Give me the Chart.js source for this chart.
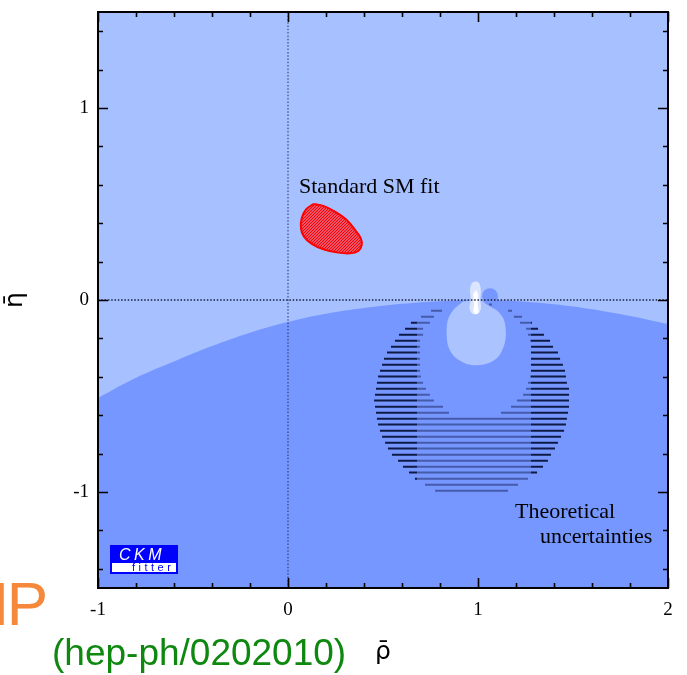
<!DOCTYPE html>
<html>
<head>
<meta charset="utf-8">
<script src="https://cdn.jsdelivr.net/npm/chart.js@4.4.0/dist/chart.umd.min.js"></script>
<style>
  html, body { margin: 0; padding: 0; background: #fff; }
  #wrap { width: 687px; height: 675px; position: relative; }
</style>
</head>
<body>
<div id="wrap"><canvas id="ckmChart" width="687" height="675"></canvas></div>
<script>
// =========================
// Axis ticks (rho-bar, eta-bar)
// =========================
const rhoTicks = [-1, 0, 1, 2];
const etaTicks = [-1, 0, 1];
const rhoMinor = [-0.8, -0.6, -0.4, -0.2, 0.2, 0.4, 0.6, 0.8, 1.2, 1.4, 1.6, 1.8];
const etaMinor = [-1.4, -1.2, -0.8, -0.6, -0.4, -0.2, 0.2, 0.4, 0.6, 0.8, 1.2, 1.4];

// =========================
// Lower excluded region boundary
// =========================
const boundaryRho = [-1, -0.8, -0.6, -0.4, -0.2, 0, 0.2, 0.4, 0.6, 0.8, 1, 1.2, 1.4, 1.6, 1.8, 2];
const boundaryEta = [-0.51, -0.405, -0.32, -0.24, -0.17, -0.115, -0.072, -0.042, -0.02, -0.006, 0, -0.006, -0.022, -0.048, -0.083, -0.125];

// =========================
// Standard SM fit contour
// =========================
const smRho = [0.133, 0.186, 0.247, 0.309, 0.353, 0.383, 0.388, 0.37, 0.326, 0.256, 0.186, 0.125, 0.084, 0.068, 0.072, 0.095, 0.133];
const smEta = [0.5, 0.49, 0.46, 0.417, 0.365, 0.321, 0.286, 0.255, 0.243, 0.248, 0.264, 0.292, 0.33, 0.373, 0.426, 0.472, 0.5];

// =========================
// Light blob near rho=1 and the white streak on top of it
// =========================
const blobRho = [0.919, 0.87, 0.841, 0.835, 0.844, 0.879, 0.941, 0.993, 1.054, 1.107, 1.138, 1.147, 1.137, 1.107, 1.067, 1.037, 1.019, 0.97, 0.919];
const blobEta = [-0.009, -0.052, -0.104, -0.174, -0.243, -0.298, -0.333, -0.34, -0.33, -0.295, -0.234, -0.173, -0.104, -0.061, -0.035, -0.017, 0.0, 0.0, -0.009];
const pillRho = [0.985, 1.005, 1.015, 1.012, 1.016, 1.005, 0.985, 0.965, 0.955, 0.962, 0.958, 0.968, 0.985];
const pillEta = [0.098, 0.09, 0.055, 0.0, -0.04, -0.068, -0.075, -0.066, -0.04, 0.0, 0.055, 0.088, 0.098];
const coreRho = [0.99, 1.0, 0.998, 1.003, 0.99, 0.976, 0.98, 0.975, 0.99];
const coreEta = [0.052, 0.03, -0.02, -0.062, -0.073, -0.062, -0.02, 0.03, 0.052];
const knobRho = [1.063];
const knobEta = [0.02];

// =========================
// Theoretical uncertainties: hatch lines (eta level + segment ends)
// =========================
const hatchEta = [-0.056, -0.087, -0.118, -0.15, -0.181, -0.212, -0.243, -0.274, -0.306, -0.337,
  -0.368, -0.399, -0.431, -0.462, -0.493, -0.524, -0.556, -0.587, -0.618, -0.649,
  -0.681, -0.712, -0.743, -0.774, -0.806, -0.837, -0.868, -0.899, -0.931, -0.962, -0.993, -0.023];
const hatchRho = [
  [0.753, 0.811, 1.158, 1.179],
  [0.7, 0.768, 1.189, 1.232],
  [0.647, 0.747, 1.221, 1.284],
  [0.616, 0.711, 1.253, 1.316],
  [0.584, 0.711, 1.263, 1.347],
  [0.563, 0.695, 1.274, 1.379],
  [0.542, 0.695, 1.279, 1.395],
  [0.521, 0.695, 1.279, 1.421],
  [0.505, 0.695, 1.279, 1.432],
  [0.495, 0.695, 1.279, 1.447],
  [0.484, 0.695, 1.279, 1.458],
  [0.474, 0.7, 1.274, 1.463],
  [0.468, 0.711, 1.263, 1.468],
  [0.463, 0.726, 1.253, 1.479],
  [0.458, 0.747, 1.237, 1.479],
  [0.453, 0.768, 1.205, 1.479],
  [0.458, 0.816, 1.174, 1.479],
  [0.463, 0.847, 1.121, 1.474],
  [0.468, 1.468],
  [0.474, 1.463],
  [0.484, 1.453],
  [0.495, 1.437],
  [0.511, 1.421],
  [0.526, 1.405],
  [0.547, 1.384],
  [0.579, 1.368],
  [0.605, 1.342],
  [0.637, 1.311],
  [0.668, 1.263],
  [0.721, 1.211],
  [0.774, 1.158],
  [1.058, 1.074],
];

// band of rho where the hatching is drawn lighter
const bandLo = 0.68;
const bandHi = 1.277;

const lightBlue = "#a7c0ff";
const darkBlue = "#7697ff";
const hatchDark = "#0e1a44";
const hatchSoft = "rgba(38, 55, 120, 0.62)";

const toPoints = (xs, ys) => xs.map((x, i) => ({ x, y: ys[i] }));

function hatchPoints() {
  const pts = [];
  hatchEta.forEach((eta, i) => {
    const ends = hatchRho[i];
    for (let j = 0; j < ends.length; j += 2) {
      pts.push({ x: ends[j], y: eta }, { x: ends[j + 1], y: eta }, { x: ends[j + 1], y: null });
    }
  });
  return pts;
}

const chartEl = document.getElementById("ckmChart");

// red diagonal hatching for the SM fit area
function redPattern() {
  const c = document.createElement("canvas");
  c.width = 3;
  c.height = 3;
  const g = c.getContext("2d");
  g.fillStyle = "rgba(255, 120, 140, 0.55)";
  g.fillRect(0, 0, 3, 3);
  g.strokeStyle = "#ff0000";
  g.lineWidth = 1.3;
  g.beginPath();
  g.moveTo(0, 3); g.lineTo(3, 0);
  g.moveTo(-1, 1); g.lineTo(1, -1);
  g.moveTo(2, 4); g.lineTo(4, 2);
  g.stroke();
  return chartEl.getContext("2d").createPattern(c, "repeat");
}

function hatchColor(c) {
  const chart = c.chart;
  const a = chart.chartArea;
  if (!a) return hatchDark;
  const x = chart.scales.x;
  const w = a.right - a.left;
  const f0 = (x.getPixelForValue(bandLo) - a.left) / w;
  const f1 = (x.getPixelForValue(bandHi) - a.left) / w;
  const g = chart.ctx.createLinearGradient(a.left, 0, a.right, 0);
  g.addColorStop(0, hatchDark);
  g.addColorStop(f0, hatchDark);
  g.addColorStop(f0, hatchSoft);
  g.addColorStop(f1, hatchSoft);
  g.addColorStop(f1, hatchDark);
  g.addColorStop(1, hatchDark);
  return g;
}

// =========================
// Plugins: background, frame + inward ticks, labels
// =========================
const plotBackground = {
  id: "plotBackground",
  beforeDraw(chart) {
    const { ctx, chartArea: a } = chart;
    ctx.save();
    ctx.fillStyle = "#fff";
    ctx.fillRect(0, 0, chart.width, chart.height);
    ctx.fillStyle = lightBlue;
    ctx.fillRect(a.left, a.top, a.right - a.left, a.bottom - a.top);
    ctx.restore();
  },
};

const frameTicks = {
  id: "frameTicks",
  afterDatasetsDraw(chart) {
    const { ctx, chartArea: a, scales } = chart;
    ctx.save();
    ctx.strokeStyle = "#000";
    ctx.lineWidth = 1.6;
    ctx.beginPath();
    const xTick = (v, len) => {
      const px = Math.round(scales.x.getPixelForValue(v)) + 0.5;
      ctx.moveTo(px, a.bottom); ctx.lineTo(px, a.bottom - len);
      ctx.moveTo(px, a.top); ctx.lineTo(px, a.top + len);
    };
    const yTick = (v, len) => {
      const py = Math.round(scales.y.getPixelForValue(v)) + 0.5;
      ctx.moveTo(a.left, py); ctx.lineTo(a.left + len, py);
      ctx.moveTo(a.right, py); ctx.lineTo(a.right - len, py);
    };
    rhoTicks.forEach((v) => xTick(v, 10));
    rhoMinor.forEach((v) => xTick(v, 5));
    etaTicks.forEach((v) => yTick(v, 10));
    etaMinor.forEach((v) => yTick(v, 5));
    ctx.stroke();
    ctx.lineWidth = 2;
    ctx.strokeRect(a.left, a.top, a.right - a.left, a.bottom - a.top);
    ctx.restore();
  },
};

const labels = {
  id: "labels",
  afterDraw(chart) {
    const { ctx, chartArea: a, scales } = chart;
    const X = (v) => scales.x.getPixelForValue(v);
    const Y = (v) => scales.y.getPixelForValue(v);
    ctx.save();
    ctx.fillStyle = "#000";
    ctx.textBaseline = "alphabetic";
    ctx.textAlign = "left";
    ctx.font = "22px 'Liberation Serif', 'Times New Roman', serif";
    ctx.fillText("Standard SM fit", X(0.058), Y(0.557));
    ctx.fillText("Theoretical", X(1.195), Y(-1.135));
    ctx.fillText("uncertainties", X(1.326), Y(-1.266));

    // CKMfitter logo
    const lx = a.left + 12;
    const ly = a.bottom - 43;
    ctx.fillStyle = "#0000ff";
    ctx.fillRect(lx, ly, 68, 29);
    ctx.fillStyle = "#fff";
    ctx.fillRect(lx + 2, ly + 18, 64, 9);
    ctx.font = "italic 16px 'Liberation Sans', Arial, sans-serif";
    ctx.letterSpacing = "3.5px";
    ctx.fillText("CKM", lx + 9, ly + 15);
    ctx.fillStyle = "#0000ff";
    ctx.font = "11px 'Liberation Sans', Arial, sans-serif";
    ctx.letterSpacing = "3.5px";
    ctx.fillText("fitter", lx + 22, ly + 26);
    ctx.letterSpacing = "0px";

    // axis titles
    ctx.fillStyle = "#000";
    ctx.font = "25px 'DejaVu Sans', sans-serif";
    ctx.textAlign = "center";
    ctx.fillText("ρ\u0304", 383, 659);
    ctx.save();
    ctx.translate(22, 300);
    ctx.rotate(-Math.PI / 2);
    ctx.fillText("η\u0304", 0, 0);
    ctx.restore();

    // NP marker and reference
    ctx.textAlign = "left";
    ctx.fillStyle = "#f5883a";
    ctx.font = "62px 'Liberation Sans', Arial, sans-serif";
    ctx.letterSpacing = "-2px";
    ctx.fillText("NP", -36, 625);
    ctx.letterSpacing = "0px";
    ctx.fillStyle = "#0f880f";
    ctx.font = "37px 'Liberation Sans', Arial, sans-serif";
    ctx.fillText("(hep-ph/0202010)", 52, 665);
    ctx.restore();
  },
};

// =========================
// Chart
// =========================
const tickFont = { family: "'Liberation Serif', 'Times New Roman', serif", size: 19 };

window.ckmChart = new Chart(chartEl, {
  type: "scatter",
  data: {
    datasets: [
      {
        // eta = 0 dotted line
        data: [{ x: -1, y: 0 }, { x: 2, y: 0 }],
        showLine: true,
        borderColor: "rgba(10, 15, 40, 0.9)",
        borderWidth: 1.3,
        borderDash: [1.5, 1.8],
        pointRadius: 0,
        order: 1,
      },
      {
        // rho = 0 dotted line
        data: [{ x: 0, y: -1.5 }, { x: 0, y: 1.5 }],
        showLine: true,
        borderColor: "rgba(30, 40, 80, 0.7)",
        borderWidth: 1.3,
        borderDash: [1.5, 1.8],
        pointRadius: 0,
        order: 1,
      },
      {
        // Standard SM fit
        data: toPoints(smRho, smEta),
        showLine: true,
        tension: 0.35,
        borderColor: "#ff0000",
        borderWidth: 2,
        backgroundColor: redPattern(),
        fill: "shape",
        pointRadius: 0,
        order: 2,
      },
      {
        // theoretical uncertainties hatching
        data: hatchPoints(),
        showLine: true,
        spanGaps: false,
        borderColor: hatchColor,
        borderWidth: 2,
        pointRadius: 0,
        order: 3,
      },
      {
        data: toPoints(knobRho, knobEta),
        pointRadius: 8,
        pointBackgroundColor: darkBlue,
        pointBorderWidth: 0,
        order: 4,
      },
      {
        data: toPoints(coreRho, coreEta),
        showLine: true,
        tension: 0.3,
        borderWidth: 0,
        borderColor: "rgba(0,0,0,0)",
        backgroundColor: "#ffffff",
        fill: "shape",
        pointRadius: 0,
        order: 5,
      },
      {
        data: toPoints(pillRho, pillEta),
        showLine: true,
        tension: 0.3,
        borderWidth: 0,
        borderColor: "rgba(0,0,0,0)",
        backgroundColor: "#dbe5ff",
        fill: "shape",
        pointRadius: 0,
        order: 6,
      },
      {
        data: toPoints(blobRho, blobEta),
        showLine: true,
        tension: 0.3,
        borderWidth: 0,
        borderColor: "rgba(0,0,0,0)",
        backgroundColor: "#abc4ff",
        fill: "shape",
        pointRadius: 0,
        order: 7,
      },
      {
        // excluded lower region
        data: toPoints(boundaryRho, boundaryEta),
        showLine: true,
        tension: 0.4,
        borderWidth: 0,
        borderColor: "rgba(0,0,0,0)",
        backgroundColor: darkBlue,
        fill: "start",
        pointRadius: 0,
        order: 8,
      },
    ],
  },
  options: {
    responsive: false,
    animation: false,
    devicePixelRatio: 1,
    events: [],
    layout: { padding: { left: 0, right: 19, top: 12, bottom: 0 } },
    plugins: {
      legend: { display: false },
      tooltip: { enabled: false },
    },
    scales: {
      x: {
        type: "linear",
        min: -1,
        max: 2,
        grid: { display: false, drawTicks: false },
        border: { display: false },
        ticks: { font: tickFont, color: "#000", padding: 11 },
        afterBuildTicks: (s) => { s.ticks = rhoTicks.map((v) => ({ value: v })); },
        afterFit: (s) => { s.height = 87; s.paddingLeft = 0; s.paddingRight = 0; },
      },
      y: {
        type: "linear",
        min: -1.5,
        max: 1.5,
        grid: { display: false, drawTicks: false },
        border: { display: false },
        ticks: { font: tickFont, color: "#000", padding: 9 },
        afterBuildTicks: (s) => { s.ticks = etaTicks.map((v) => ({ value: v })); },
        afterFit: (s) => { s.width = 98; s.paddingTop = 0; s.paddingBottom = 0; },
      },
    },
  },
  plugins: [plotBackground, frameTicks, labels],
});
</script>
</body>
</html>
